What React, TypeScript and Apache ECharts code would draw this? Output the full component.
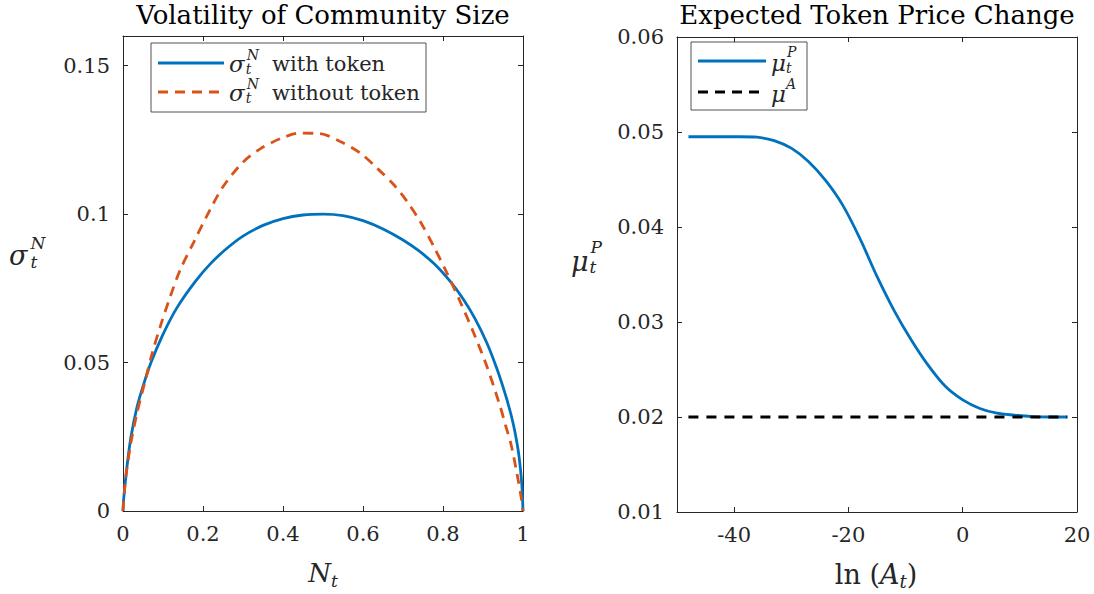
import React, { useEffect, useRef } from "react";
import * as echarts from "echarts";

// ---- data ----
const nWith = [0, 0.002, 0.01, 0.02, 0.035, 0.05, 0.07, 0.1, 0.135, 0.18, 0.22, 0.26, 0.3, 0.35, 0.4, 0.45, 0.5, 0.55, 0.6, 0.65, 0.7, 0.74, 0.78, 0.82, 0.85, 0.88, 0.91, 0.935, 0.956, 0.97, 0.98, 0.99, 0.997, 1];
const sigmaWith = [0, 0.0045, 0.015, 0.025, 0.035, 0.042, 0.05, 0.0595, 0.0685, 0.0772, 0.0835, 0.0885, 0.0926, 0.0962, 0.0985, 0.0997, 0.1, 0.0995, 0.0978, 0.095, 0.0913, 0.0876, 0.083, 0.077, 0.0715, 0.0648, 0.0565, 0.0478, 0.0392, 0.0325, 0.0265, 0.0185, 0.009, 0];

const nWithout = [0, 0.002, 0.006, 0.018, 0.035, 0.056, 0.073, 0.093, 0.118, 0.143, 0.177, 0.21, 0.25, 0.3, 0.343, 0.393, 0.443, 0.493, 0.543, 0.593, 0.635, 0.677, 0.71, 0.743, 0.777, 0.81, 0.843, 0.877, 0.91, 0.943, 0.956, 0.97, 0.985, 0.995, 1];
const sigmaWithout = [0, 0.004, 0.0104, 0.0217, 0.033, 0.0442, 0.0532, 0.0621, 0.0722, 0.0812, 0.0906, 0.0995, 0.1092, 0.1175, 0.122, 0.1254, 0.1273, 0.1271, 0.1245, 0.1206, 0.1155, 0.1099, 0.1043, 0.0975, 0.0891, 0.0801, 0.0705, 0.0599, 0.0486, 0.0352, 0.029, 0.0225, 0.0125, 0.005, 0];

const lnA = [-48, -45, -42, -39, -36, -33, -30, -27, -24, -21, -18, -15, -12, -9, -6, -3, 0, 3, 6, 9, 12, 15, 18.3];
const muP = [0.0495, 0.0495, 0.0495, 0.0495, 0.04945, 0.0491, 0.0483, 0.0469, 0.0449, 0.0423, 0.0388, 0.0348, 0.0312, 0.0281, 0.0254, 0.0232, 0.0218, 0.0209, 0.0204, 0.0202, 0.02005, 0.02, 0.02];
const lnAEnds = [-48, 18.3];
const muA = [0.02, 0.02];

const leftXTicks = [0, 0.2, 0.4, 0.6, 0.8, 1];
const leftYTicks = [0, 0.05, 0.1, 0.15];
const rightXTicks = [-40, -20, 0, 20];
const rightYTicks = [0.01, 0.02, 0.03, 0.04, 0.05, 0.06];

const titles = ["Volatility of Community Size", "Expected Token Price Change"];
const legendLabels = ["with token", "without token"];

// ---- styling ----
const FAMILY = '"DejaVu Serif", serif';
const AX = "#262626";
const BLUE = "#0072BD";
const ORANGE = "#D95319";

const zip = (xs: number[], ys: number[]) => xs.map((x, i) => [x, ys[i]]);

let measureCtx: CanvasRenderingContext2D | null = null;
function tw(text: string, size: number, italic?: boolean) {
  if (!measureCtx) measureCtx = document.createElement("canvas").getContext("2d");
  measureCtx!.font = `${italic ? "italic " : ""}${size}px ${FAMILY}`;
  return measureCtx!.measureText(text).width;
}

type Simple = { t: string; size: number; it?: boolean; dy?: number; gap?: number; lh?: number };
type Stack = { sup: Simple; sub: Simple; gap?: number };
type Piece = Simple | Stack;

function txt(t: string, x: number, y: number, size: number, italic?: boolean, color = AX, align = "left", lh?: number) {
  return {
    type: "text",
    x,
    y,
    silent: true,
    z: 100,
    style: {
      text: t,
      fontSize: size,
      fontFamily: FAMILY,
      fontStyle: italic ? "italic" : "normal",
      fill: color,
      align,
      verticalAlign: "middle",
      lineHeight: lh || Math.round(size * 1.1),
    },
  };
}

function mathRun(pieces: Piece[], x0: number, y: number, align: "left" | "center", color = AX) {
  const widths = pieces.map((p) => {
    if ("sup" in p) return Math.max(tw(p.sup.t, p.sup.size, p.sup.it), tw(p.sub.t, p.sub.size, p.sub.it)) + (p.gap || 0);
    return tw(p.t, p.size, p.it) + (p.gap || 0);
  });
  const total = widths.reduce((a, b) => a + b, 0);
  let x = align === "center" ? x0 - total / 2 : x0;
  const out: any[] = [];
  pieces.forEach((p, i) => {
    if ("sup" in p) {
      out.push(txt(p.sup.t, x + (p.sup.gap || 0), y + (p.sup.dy || 0), p.sup.size, p.sup.it, color, "left", Math.round(p.sup.size * 0.7)));
      out.push(txt(p.sub.t, x + (p.sub.gap || 0), y + (p.sub.dy || 0), p.sub.size, p.sub.it, color, "left", Math.round(p.sub.size * 0.7)));
    } else {
      out.push(txt(p.t, x, y + (p.dy || 0), p.size, p.it, color, "left", p.lh));
    }
    x += widths[i];
  });
  return out;
}

function axisPair(gridIndex: number, min: number, max: number, ticks: number[], isX: boolean, fmt: (v: number) => string) {
  const common = {
    gridIndex,
    type: "value",
    min,
    max,
    splitLine: { show: false },
    axisLine: { show: true, onZero: false, lineStyle: { color: AX, width: 1 } },
    axisTick: { show: true, inside: true, length: 5, customValues: ticks, lineStyle: { color: AX, width: 1 } },
  };
  const main = {
    ...common,
    position: isX ? "bottom" : "left",
    axisLabel: {
      show: true,
      customValues: ticks,
      formatter: fmt,
      fontSize: 21,
      fontFamily: FAMILY,
      color: AX,
      margin: isX ? 12 : 13,
    },
  };
  const other = {
    ...common,
    position: isX ? "top" : "right",
    axisLabel: { show: false },
  };
  return [main, other];
}

export default function App() {
  const ref = useRef<HTMLDivElement>(null);
  useEffect(() => {
    if (!ref.current) return;
    const chart = echarts.init(ref.current, undefined, { renderer: "svg" });

    const graphics: any[] = [];
    // titles
    graphics.push(txt(titles[0], 323, 15, 26, false, "#000", "center", 26));
    graphics.push(txt(titles[1], 877, 15, 26, false, "#000", "center", 26));

    // axis names
    graphics.push(
      ...mathRun(
        [
          { t: "σ", size: 27, it: true, dy: 0, lh: 22 },
          { sup: { t: "N", size: 17, it: true, dy: -12, gap: 3 }, sub: { t: "t", size: 17, it: true, dy: 7, gap: 3 } },
        ],
        9,
        255,
        "left"
      )
    );
    graphics.push(
      ...mathRun(
        [
          { t: "μ", size: 27, it: true, dy: 0, lh: 22 },
          { sup: { t: "P", size: 17, it: true, dy: -14, gap: 2 }, sub: { t: "t", size: 17, it: true, dy: 6, gap: 1 } },
        ],
        571,
        261,
        "left"
      )
    );
    graphics.push(
      ...mathRun(
        [
          { t: "N", size: 26, it: true },
          { t: "t", size: 17, it: true, dy: 8, lh: 13 },
        ],
        323,
        573,
        "center"
      )
    );
    graphics.push(
      ...mathRun(
        [
          { t: "ln", size: 27 },
          { t: " (", size: 27 },
          { t: "A", size: 27, it: true },
          { t: "t", size: 18, it: true, dy: 7, lh: 14 },
          { t: ")", size: 27 },
        ],
        876,
        574,
        "center"
      )
    );

    // legends
    const legendBox = (x: number, y: number, w: number, h: number) => ({
      type: "rect",
      z: 90,
      silent: true,
      shape: { x, y, width: w, height: h },
      style: { fill: "#fff", stroke: AX, lineWidth: 0.8 },
    });
    const legendLine = (x1: number, x2: number, y: number, color: string, dash?: number[]) => ({
      type: "line",
      z: 95,
      silent: true,
      shape: { x1, y1: y, x2, y2: y },
      style: { stroke: color, lineWidth: 2.8, lineDash: dash || null },
    });
    graphics.push(legendBox(151, 43, 275, 69));
    graphics.push(legendLine(158, 224, 63, BLUE));
    graphics.push(legendLine(158, 224, 92, ORANGE, [10, 7]));
    [63, 92].forEach((ry, i) => {
      graphics.push(
        ...mathRun(
          [
            { t: "σ", size: 23, it: true, dy: 1, lh: 18 },
            { sup: { t: "N", size: 14, it: true, dy: -8, gap: 2 }, sub: { t: "t", size: 14, it: true, dy: 6, gap: 1 } },
          ],
          229,
          ry,
          "left"
        )
      );
      graphics.push(txt(legendLabels[i], 272, ry + 1, 21, false, AX, "left", 20));
    });
    graphics.push(legendBox(691, 42, 116, 68));
    graphics.push(legendLine(698, 766, 61, BLUE));
    graphics.push(legendLine(698, 766, 92, "#000", [10, 7]));
    graphics.push(
      ...mathRun(
        [
          { t: "μ", size: 23, it: true, dy: 2, lh: 18 },
          { sup: { t: "P", size: 14, it: true, dy: -9, gap: 1 }, sub: { t: "t", size: 14, it: true, dy: 7 } },
        ],
        771,
        61,
        "left"
      )
    );
    graphics.push(
      ...mathRun(
        [
          { t: "μ", size: 23, it: true, dy: 2, lh: 18 },
          { t: "A", size: 14, it: true, dy: -8, lh: 10 },
        ],
        771,
        92,
        "left"
      )
    );

    const fmtPlain = (v: number) => String(+v.toFixed(4));
    const fmt2 = (v: number) => v.toFixed(2);
    const [lx, lxTop] = axisPair(0, 0, 1, leftXTicks, true, fmtPlain);
    const [ly, lyRight] = axisPair(0, 0, 0.16, leftYTicks, false, fmtPlain);
    const [rx, rxTop] = axisPair(1, -50, 20, rightXTicks, true, fmtPlain);
    const [ry, ryRight] = axisPair(1, 0.01, 0.06, rightYTicks, false, fmt2);

    const lineCommon = {
      type: "line",
      showSymbol: false,
      symbol: "none",
      smooth: 0.3,
      silent: true,
      clip: true,
    };

    chart.setOption({
      animation: false,
      backgroundColor: "#fff",
      grid: [
        { left: 123, top: 36, width: 400, height: 475, containLabel: false },
        { left: 677, top: 37, width: 400, height: 475, containLabel: false },
      ],
      xAxis: [lx, lxTop, rx, rxTop],
      yAxis: [ly, lyRight, ry, ryRight],
      series: [
        {
          ...lineCommon,
          name: "with token",
          xAxisIndex: 0,
          yAxisIndex: 0,
          data: zip(nWith, sigmaWith),
          lineStyle: { color: BLUE, width: 2.8 },
          z: 3,
        },
        {
          ...lineCommon,
          name: "without token",
          xAxisIndex: 0,
          yAxisIndex: 0,
          data: zip(nWithout, sigmaWithout),
          lineStyle: { color: ORANGE, width: 2.8, type: [10, 7] },
          z: 4,
        },
        {
          ...lineCommon,
          name: "mu_t^P",
          xAxisIndex: 2,
          yAxisIndex: 2,
          data: zip(lnA, muP),
          lineStyle: { color: BLUE, width: 2.8 },
          z: 3,
        },
        {
          ...lineCommon,
          smooth: false,
          name: "mu^A",
          xAxisIndex: 2,
          yAxisIndex: 2,
          data: zip(lnAEnds, muA),
          lineStyle: { color: "#000", width: 2.8, type: [10, 8] },
          z: 4,
        },
      ],
      graphic: graphics,
    });
    return () => chart.dispose();
  }, []);

  return <div ref={ref} style={{ position: "fixed", left: 0, top: 0, width: 1094, height: 594, background: "#fff" }} />;
}
